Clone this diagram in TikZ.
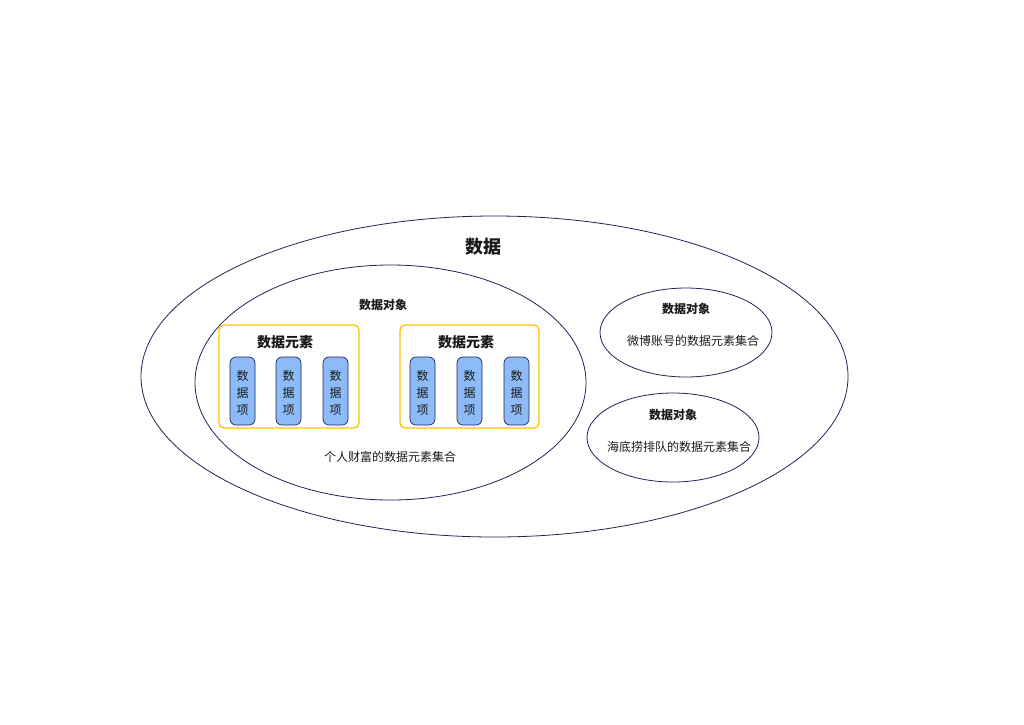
\documentclass[tikz,border=0pt]{standalone}
\usepackage{fontspec}
\newfontfamily\cjk{Noto Sans CJK SC}
\usetikzlibrary{shapes.geometric}
\definecolor{navy}{HTML}{1F2358}
\definecolor{gold}{HTML}{FFC000}
\definecolor{pill}{HTML}{8CBBF8}
\definecolor{txt}{HTML}{1A1A1A}
\tikzset{
  x=1pt,y=-1pt,
  ell/.style={draw=navy,line width=0.8pt,ellipse,inner sep=0pt},
  elembox/.style={draw=gold,line width=1.3pt,rounded corners=5pt},
  itembox/.style={draw=navy,line width=0.7pt,fill=pill,rounded corners=6pt,minimum width=25pt,minimum height=68pt,inner sep=0pt,
    font=\cjk\fontsize{12}{17}\selectfont,text=txt,align=center},
  lbl/.style={font=\cjk\fontsize{12}{14}\selectfont,text=txt,inner sep=0pt},
  blbl/.style={font=\cjk\bfseries\fontsize{12}{14}\selectfont,text=txt,inner sep=0pt},
}
\begin{document}
\begin{tikzpicture}
\useasboundingbox (0,0) rectangle (1024,724);
% outer ellipse
\node[ell,minimum width=707pt,minimum height=321pt] (outer) at (494.5,376.5) {};
\node[font=\cjk\bfseries\fontsize{18}{20}\selectfont,text=txt,inner sep=0pt] (title) at (483,247) {数据};
% inner big ellipse
\node[ell,minimum width=391pt,minimum height=235pt] (obj1) at (390.5,382.5) {};
\node[blbl] (obj1t) at (383,305) {数据对象};
% element boxes
\draw[elembox] (219,325) rectangle (359,428);
\draw[elembox] (400,325) rectangle (539,428);
\node[font=\cjk\bfseries\fontsize{14}{16}\selectfont,text=txt,inner sep=0pt] (e1) at (285,342) {数据元素};
\node[font=\cjk\bfseries\fontsize{14}{16}\selectfont,text=txt,inner sep=0pt] (e2) at (466,342) {数据元素};
% items
\foreach \xx/\nm in {242.5/a,288.5/b,335.5/c,422.5/d,469.5/e,516.5/f}{
  \node[itembox] (item\nm) at (\xx,391) {};
  \node[lbl,align=center,font=\cjk\fontsize{12}{17}\selectfont] (itemt\nm) at (\xx,393) {数\\据\\项};
}
\node[lbl] (coll1) at (390,457) {个人财富的数据元素集合};
% right ellipses
\node[ell,minimum width=172pt,minimum height=89pt] (obj2) at (686,332.5) {};
\node[blbl] (obj2t) at (686,309) {数据对象};
\node[lbl] (coll2) at (693,341) {微博账号的数据元素集合};
\node[ell,minimum width=172pt,minimum height=89pt] (obj3) at (673,437.5) {};
\node[blbl] (obj3t) at (673,415) {数据对象};
\node[lbl] (coll3) at (679,447) {海底捞排队的数据元素集合};
\end{tikzpicture}
\end{document}
